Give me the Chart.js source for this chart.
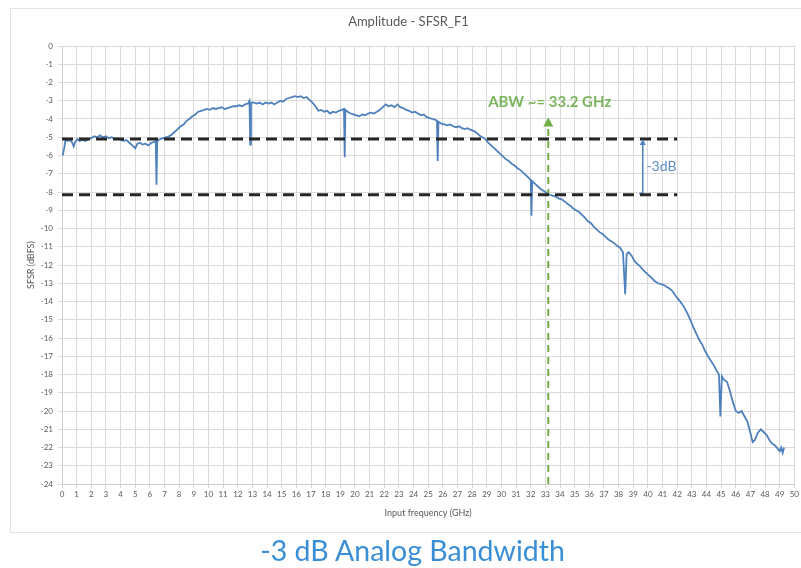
<!DOCTYPE html>
<html>
<head>
<meta charset="utf-8">
<script src="https://cdn.jsdelivr.net/npm/chart.js@4.4.0/dist/chart.umd.min.js"></script>
<style>
	html, body { margin: 0; padding: 0; background: #fff; }
	#wrap { position: relative; width: 801px; height: 568px; overflow: hidden; }
	#frame { position: absolute; left: 10px; top: 8px; width: 800px; height: 525px; border: 1px solid #e4e4e4; box-sizing: border-box; }
	#myChart { position: absolute; left: 0; top: 0; }
	#caption { position: absolute; left: 24px; width: 777px; top: 532px; text-align: center;
		font-family: Lato, "Open Sans", sans-serif; font-size: 28.5px; line-height: 36px; color: #3a8ed6; }
</style>
</head>
<body>
<div id="wrap">
	<div id="frame"></div>
	<canvas id="myChart" width="801" height="568"></canvas>
	<div id="caption">-3 dB Analog Bandwidth</div>
</div>
<script>
"use strict";

var freqGHz = [
	0.05, 0.15, 0.25, 0.4, 0.55, 0.7, 0.8, 0.9, 1.05, 1.2, 1.4, 1.6, 1.8, 2.0, 2.2, 2.4, 2.6, 2.8, 3.0, 3.2,
	3.4, 3.6, 3.8, 4.0, 4.2, 4.4, 4.6, 4.8, 5.0, 5.15, 5.3, 5.5, 5.7, 5.9, 6.1, 6.3, 6.4, 6.45, 6.5, 6.7,
	6.9, 7.1, 7.3, 7.5, 7.7, 7.9, 8.1, 8.3, 8.5, 8.7, 8.9, 9.1, 9.3, 9.5, 9.7, 9.9, 10.1, 10.3, 10.5, 10.7,
	10.9, 11.1, 11.3, 11.5, 11.7, 11.9, 12.1, 12.3, 12.5, 12.7, 12.8, 12.85, 12.9, 13.1, 13.3, 13.5, 13.7, 13.9, 14.1, 14.3,
	14.5, 14.7, 14.9, 15.1, 15.3, 15.5, 15.7, 15.9, 16.1, 16.3, 16.5, 16.7, 16.9, 17.1, 17.3, 17.5, 17.7, 17.9, 18.1, 18.3,
	18.5, 18.7, 18.9, 19.1, 19.25, 19.3, 19.35, 19.5, 19.7, 19.9, 20.1, 20.3, 20.5, 20.7, 20.9, 21.1, 21.3, 21.5, 21.7, 21.9,
	22.1, 22.3, 22.5, 22.7, 22.9, 23.1, 23.3, 23.5, 23.7, 23.9, 24.1, 24.3, 24.5, 24.7, 24.9, 25.1, 25.3, 25.5, 25.6, 25.65,
	25.7, 25.9, 26.1, 26.3, 26.5, 26.7, 26.9, 27.1, 27.3, 27.5, 27.7, 27.9, 28.1, 28.3, 28.5, 28.7, 28.9, 29.1, 29.3, 29.5,
	29.7, 29.9, 30.1, 30.3, 30.5, 30.7, 30.9, 31.1, 31.3, 31.5, 31.7, 31.9, 32.0, 32.05, 32.1, 32.3, 32.5, 32.7, 32.9, 33.1,
	33.3, 33.5, 33.7, 33.9, 34.1, 34.3, 34.5, 34.7, 34.9, 35.1, 35.3, 35.5, 35.7, 35.9, 36.1, 36.3, 36.5, 36.7, 36.9, 37.1,
	37.3, 37.5, 37.7, 37.9, 38.1, 38.3, 38.45, 38.55, 38.7, 38.9, 39.1, 39.3, 39.5, 39.7, 39.9, 40.1, 40.3, 40.5, 40.7, 40.9,
	41.1, 41.3, 41.5, 41.7, 41.9, 42.1, 42.3, 42.5, 42.7, 42.9, 43.1, 43.3, 43.5, 43.7, 43.9, 44.1, 44.3, 44.5, 44.7, 44.85,
	44.95, 45.05, 45.2, 45.4, 45.6, 45.8, 46.0, 46.2, 46.4, 46.6, 46.8, 47.0, 47.15, 47.3, 47.5, 47.7, 47.9, 48.1, 48.3, 48.5,
	48.7, 48.9, 49.0, 49.1, 49.2, 49.3
];
var sfsrDBFS = [
	-6.0, -5.6, -5.1, -5.2, -5.15, -5.3, -5.5, -5.25, -5.1, -5.2, -5.15, -5.2, -5.1, -5.05, -4.95, -5.0, -4.9, -5.0, -4.95, -5.05,
	-5.0, -5.1, -5.05, -5.15, -5.2, -5.15, -5.3, -5.45, -5.6, -5.35, -5.3, -5.4, -5.35, -5.45, -5.3, -5.25, -5.2, -7.6, -5.2, -5.1,
	-5.05, -5.0, -4.95, -4.85, -4.7, -4.55, -4.4, -4.3, -4.1, -4.0, -3.85, -3.75, -3.6, -3.55, -3.5, -3.45, -3.5, -3.4, -3.45, -3.4,
	-3.35, -3.45, -3.4, -3.35, -3.3, -3.3, -3.25, -3.3, -3.2, -3.15, -3.0, -5.4, -3.1, -3.1, -3.15, -3.1, -3.2, -3.1, -3.15, -3.1,
	-3.2, -3.1, -3.0, -3.05, -2.9, -2.85, -2.8, -2.75, -2.8, -2.75, -2.85, -2.8, -2.95, -3.1, -3.3, -3.55, -3.5, -3.6, -3.55, -3.7,
	-3.6, -3.65, -3.55, -3.5, -3.45, -6.1, -3.5, -3.6, -3.7, -3.75, -3.8, -3.85, -3.75, -3.8, -3.7, -3.65, -3.7, -3.6, -3.5, -3.35,
	-3.2, -3.3, -3.25, -3.35, -3.2, -3.35, -3.4, -3.5, -3.55, -3.65, -3.6, -3.7, -3.8, -3.75, -3.9, -3.95, -4.0, -4.05, -4.1, -6.3,
	-4.15, -4.25, -4.3, -4.35, -4.3, -4.4, -4.45, -4.4, -4.5, -4.55, -4.5, -4.6, -4.65, -4.75, -4.9, -5.0, -5.1, -5.3, -5.45, -5.6,
	-5.75, -5.9, -6.05, -6.2, -6.3, -6.45, -6.55, -6.7, -6.8, -6.95, -7.1, -7.25, -7.35, -9.3, -7.4, -7.55, -7.7, -7.85, -7.95, -8.05,
	-8.15, -8.2, -8.25, -8.35, -8.4, -8.5, -8.65, -8.75, -8.9, -9.0, -9.1, -9.25, -9.4, -9.6, -9.7, -9.9, -10.05, -10.2, -10.3, -10.45,
	-10.6, -10.7, -10.8, -10.95, -11.05, -11.3, -13.6, -11.4, -11.3, -11.5, -11.8, -11.95, -12.1, -12.3, -12.45, -12.6, -12.75, -12.9, -13.0, -13.05,
	-13.1, -13.2, -13.3, -13.45, -13.7, -13.9, -14.1, -14.35, -14.65, -15.0, -15.4, -15.75, -16.1, -16.35, -16.7, -17.0, -17.25, -17.5, -17.8, -18.0,
	-20.3, -18.1, -18.3, -18.4, -18.9, -19.5, -20.0, -20.1, -20.0, -20.3, -20.6, -21.2, -21.7, -21.6, -21.2, -21.0, -21.15, -21.3, -21.6, -21.8,
	-21.9, -22.1, -22.2, -22.0, -22.3, -22.0
];

// -3 dB reference levels and bandwidth marker
var refLevels = [-5.1, -8.15];
var refEndGHz = 42;
var abwGHz = 33.2;
var abwTop = -4.3;
var dropMarkerGHz = 39.65;

var curve = freqGHz.map(function (f, i) { return { x: f, y: sfsrDBFS[i] }; });

var dashedRef = function (lvl) {
	return {
		data: [{ x: 0, y: lvl }, { x: refEndGHz, y: lvl }],
		borderColor: '#262626',
		borderWidth: 3,
		borderDash: [11, 6],
		pointRadius: 0,
		order: 0
	};
};

// arrow heads and the text notes
var notesPlugin = {
	id: 'notes',
	afterDatasetsDraw: function (chart) {
		var ctx = chart.ctx;
		var x = chart.scales.x, y = chart.scales.y;

		function head(px, py, color, w, h) {
			ctx.fillStyle = color;
			ctx.beginPath();
			ctx.moveTo(px, py);
			ctx.lineTo(px - w, py + h);
			ctx.lineTo(px + w, py + h);
			ctx.closePath();
			ctx.fill();
		}

		ctx.save();
		head(x.getPixelForValue(abwGHz), y.getPixelForValue(abwTop) - 7, '#70ad47', 5, 9);
		head(x.getPixelForValue(dropMarkerGHz), y.getPixelForValue(refLevels[0] - 0.1) - 2, '#4f81bd', 3, 6);

		ctx.textBaseline = 'middle';
		ctx.font = 'bold 15px Lato, "Open Sans", sans-serif';
		ctx.fillStyle = '#7ab55c';
		ctx.textAlign = 'center';
		ctx.fillText('ABW ~= 33.2 GHz', x.getPixelForValue(33.3), y.getPixelForValue(-3.1));

		ctx.font = '14px Lato, "Open Sans", sans-serif';
		ctx.fillStyle = '#5b8cc8';
		ctx.textAlign = 'left';
		ctx.fillText('-3dB', x.getPixelForValue(39.9), y.getPixelForValue(-6.6));
		ctx.restore();
	}
};

document.addEventListener('DOMContentLoaded', function () {

	const ctx = document.getElementById('myChart');

	new Chart(ctx, {
		type: 'line',
		data: {
			datasets: [
				dashedRef(refLevels[0]),
				dashedRef(refLevels[1]),
				{
					data: [{ x: abwGHz, y: -24 }, { x: abwGHz, y: abwTop }],
					borderColor: '#70ad47',
					borderWidth: 2,
					borderDash: [7, 5],
					pointRadius: 0,
					order: 0
				},
				{
					data: [{ x: dropMarkerGHz - 0.25, y: refLevels[1] + 0.05 }, { x: dropMarkerGHz, y: refLevels[1] + 0.1 }, { x: dropMarkerGHz, y: refLevels[0] - 0.2 }],
					borderColor: '#4f81bd',
					borderWidth: 1.5,
					pointRadius: 0,
					order: 0
				},
				{
					label: 'SFSR_F1',
					data: curve,
					borderColor: '#4f81bd',
					borderWidth: 1.8,
					pointRadius: 0,
					tension: 0,
					order: 1
				}
			]
		},
		options: {
			responsive: false,
			animation: false,
			layout: { padding: { left: 22, right: 6, top: 0, bottom: 44 } },
			plugins: {
				legend: { display: false },
				tooltip: { enabled: false },
				title: {
					display: true,
					text: 'Amplitude - SFSR_F1',
					color: '#595959',
					font: { family: 'Lato, "Open Sans", sans-serif', size: 13, weight: 'normal' },
					padding: { top: 14, bottom: 16.4 }
				}
			},
			scales: {
				x: {
					type: 'linear',
					min: 0,
					max: 50,
					afterFit: function (scale) { scale.height = 40; },
					ticks: {
						stepSize: 1,
						autoSkip: false,
						maxRotation: 0,
						padding: 2,
						color: '#595959',
						font: { family: 'Lato, "Open Sans", sans-serif', size: 8 }
					},
					grid: { color: '#dadada', tickLength: 4 },
					border: { color: '#cfcfcf' },
					title: {
						display: true,
						text: 'Input frequency (GHz)',
						color: '#595959',
						font: { family: 'Lato, "Open Sans", sans-serif', size: 9 },
						padding: { top: 2, bottom: 6 }
					}
				},
				y: {
					min: -24,
					max: 0,
					afterFit: function (scale) { scale.width = 40; },
					ticks: {
						stepSize: 1,
						autoSkip: false,
						padding: 5,
						color: '#595959',
						font: { family: 'Lato, "Open Sans", sans-serif', size: 8 }
					},
					grid: { color: '#dadada', tickLength: 4 },
					border: { color: '#cfcfcf' },
					title: {
						display: true,
						text: 'SFSR (dBFS)',
						color: '#595959',
						font: { family: 'Lato, "Open Sans", sans-serif', size: 9 },
						padding: { top: 4, bottom: 4 }
					}
				}
			}
		},
		plugins: [notesPlugin]
	});

});
</script>
</body>
</html>
